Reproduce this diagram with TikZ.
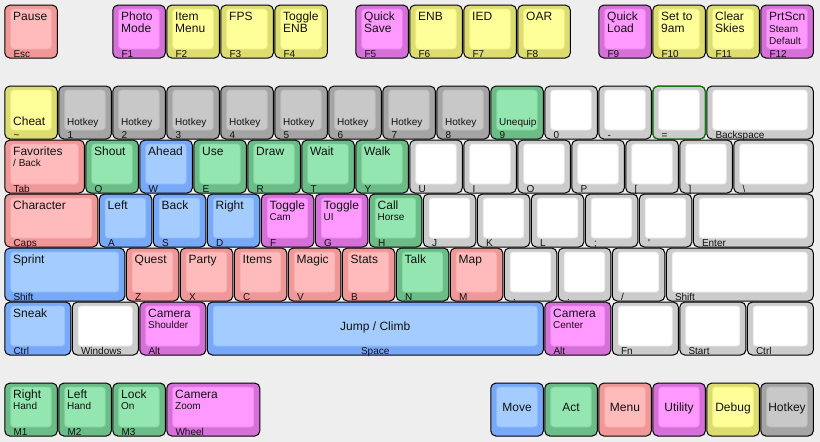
\documentclass[tikz,border=0pt]{standalone}
\usepackage{fontspec}
\setmainfont{Liberation Sans}
\definecolor{bg}{HTML}{EEEEEE}
\definecolor{txt}{HTML}{111111}
\definecolor{redS}{HTML}{F09898}\definecolor{redT}{HTML}{FFBBBB}
\definecolor{grnS}{HTML}{6CBC88}\definecolor{grnT}{HTML}{94E6B0}
\definecolor{bluS}{HTML}{78A8F8}\definecolor{bluT}{HTML}{A4CCFE}
\definecolor{magS}{HTML}{D470D8}\definecolor{magT}{HTML}{FF99FF}
\definecolor{yelS}{HTML}{DCDC70}\definecolor{yelT}{HTML}{FFFF99}
\definecolor{gryS}{HTML}{A4A4A4}\definecolor{gryT}{HTML}{C8C8C8}
\definecolor{whtS}{HTML}{CCCCCC}\definecolor{whtT}{HTML}{FFFFFF}
\newcommand\kbkey[5]{%
  \pgfmathsetmacro\kXa{4+54*#2}%
  \pgfmathsetmacro\kYa{4.3+54*#3}%
  \pgfmathsetmacro\kXb{\kXa+54*#4}%
  \pgfmathsetmacro\kXc{(\kXa+\kXb)/2}%
  \path[keyside=#5] (\kXa+0.8,\kYa+0.8) rectangle (\kXb-0.7,\kYa+53.7);
  \path[keytop=#5] (\kXa+6.7,\kYa+4.7) rectangle (\kXb-6.7,\kYa+44.7);
  \coordinate (#1) at (\kXa,\kYa);}
\newcommand\tA[2]{\node[big] (#1) at (\kXa+9,\kYa+15.7) {#2};}
\newcommand\tB[2]{\node[big] (#1) at (\kXa+9,\kYa+28.2) {#2};}
\newcommand\tS[3][27]{\node[sm] (#2) at (\kXa+9,\kYa+#1) {#3};}
\newcommand\tL[3]{\node[#2] (#1) at (\kXa+9,\kYa+40) {#3};}
\newcommand\tF[2]{\node[sm] (#1) at (\kXa+9.3,\kYa+52.8) {#2};}
\newcommand\tC[2]{\node[big,anchor=base] (#1) at (\kXc,\kYa+29) {#2};}
\begin{document}
\begin{tikzpicture}[x=1pt,y=-1pt,
  every node/.style={inner sep=0pt,text=txt},
  big/.style={font=\fontsize{12}{14}\selectfont,anchor=base west},
  sm/.style={font=\fontsize{10}{12}\selectfont,anchor=base west},
  keyside/.style={fill=#1S,draw=black,line width=1pt,rounded corners=5pt},
  keytop/.style={fill=#1T,draw=#1S!45!#1T,line width=0.8pt,rounded corners=3pt}]
\fill[bg] (0,0) rectangle (820,442);
\useasboundingbox (0,0) rectangle (820,442);
% ---- row 0
\kbkey{esc}{0}{0}{1}{red}\tA{esc-t}{Pause}\tF{esc-f}{Esc}
\kbkey{f1}{2}{0}{1}{mag}\tA{f1-t}{Photo}\tB{f1-b}{Mode}\tF{f1-f}{F1}
\kbkey{f2}{3}{0}{1}{yel}\tA{f2-t}{Item}\tB{f2-b}{Menu}\tF{f2-f}{F2}
\kbkey{f3}{4}{0}{1}{yel}\tA{f3-t}{FPS}\tF{f3-f}{F3}
\kbkey{f4}{5}{0}{1}{yel}\tA{f4-t}{Toggle}\tB{f4-b}{ENB}\tF{f4-f}{F4}
\kbkey{f5}{6.5}{0}{1}{mag}\tA{f5-t}{Quick}\tB{f5-b}{Save}\tF{f5-f}{F5}
\kbkey{f6}{7.5}{0}{1}{yel}\tA{f6-t}{ENB}\tF{f6-f}{F6}
\kbkey{f7}{8.5}{0}{1}{yel}\tA{f7-t}{IED}\tF{f7-f}{F7}
\kbkey{f8}{9.5}{0}{1}{yel}\tA{f8-t}{OAR}\tF{f8-f}{F8}
\kbkey{f9}{11}{0}{1}{mag}\tA{f9-t}{Quick}\tB{f9-b}{Load}\tF{f9-f}{F9}
\kbkey{f10}{12}{0}{1}{yel}\tA{f10-t}{Set to}\tB{f10-b}{9am}\tF{f10-f}{F10}
\kbkey{f11}{13}{0}{1}{yel}\tA{f11-t}{Clear}\tB{f11-b}{Skies}\tF{f11-f}{F11}
\kbkey{f12}{14}{0}{1}{mag}\tA{f12-t}{PrtScn}\tS[28]{f12-s}{Steam}\tS[40.6]{f12-d}{Default}\tF{f12-f}{F12}
% ---- row 1
\kbkey{tld}{0}{1.5}{1}{yel}\tL{tld-l}{big}{Cheat}\tF{tld-f}{\textasciitilde}
\kbkey{n1}{1}{1.5}{1}{gry}\tL{n1-l}{sm}{Hotkey}\tF{n1-f}{1}
\kbkey{n2}{2}{1.5}{1}{gry}\tL{n2-l}{sm}{Hotkey}\tF{n2-f}{2}
\kbkey{n3}{3}{1.5}{1}{gry}\tL{n3-l}{sm}{Hotkey}\tF{n3-f}{3}
\kbkey{n4}{4}{1.5}{1}{gry}\tL{n4-l}{sm}{Hotkey}\tF{n4-f}{4}
\kbkey{n5}{5}{1.5}{1}{gry}\tL{n5-l}{sm}{Hotkey}\tF{n5-f}{5}
\kbkey{n6}{6}{1.5}{1}{gry}\tL{n6-l}{sm}{Hotkey}\tF{n6-f}{6}
\kbkey{n7}{7}{1.5}{1}{gry}\tL{n7-l}{sm}{Hotkey}\tF{n7-f}{7}
\kbkey{n8}{8}{1.5}{1}{gry}\tL{n8-l}{sm}{Hotkey}\tF{n8-f}{8}
\kbkey{n9}{9}{1.5}{1}{grn}\tL{n9-l}{sm}{Unequip}\tF{n9-f}{9}
\kbkey{n0}{10}{1.5}{1}{wht}\tF{n0-f}{0}
\kbkey{mns}{11}{1.5}{1}{wht}\tF{mns-f}{-}
\kbkey{eql}{12}{1.5}{1}{wht}\tF{eql-f}{=}
\draw[green!55!black,line width=0.9pt,rounded corners=5pt] (\kXa+0.8,\kYa+0.8) rectangle (\kXa+53.3,\kYa+53.7);
\kbkey{bsp}{13}{1.5}{2}{wht}\tF{bsp-f}{Backspace}
% ---- row 2
\kbkey{tab}{0}{2.5}{1.5}{red}\tA{tab-t}{Favorites}\tS{tab-s}{/ Back}\tF{tab-f}{Tab}
\kbkey{q}{1.5}{2.5}{1}{grn}\tA{q-t}{Shout}\tF{q-f}{Q}
\kbkey{w}{2.5}{2.5}{1}{blu}\tA{w-t}{Ahead}\tF{w-f}{W}
\kbkey{e}{3.5}{2.5}{1}{grn}\tA{e-t}{Use}\tF{e-f}{E}
\kbkey{r}{4.5}{2.5}{1}{grn}\tA{r-t}{Draw}\tF{r-f}{R}
\kbkey{t}{5.5}{2.5}{1}{grn}\tA{t-t}{Wait}\tF{t-f}{T}
\kbkey{y}{6.5}{2.5}{1}{grn}\tA{y-t}{Walk}\tF{y-f}{Y}
\kbkey{u}{7.5}{2.5}{1}{wht}\tF{u-f}{U}
\kbkey{i}{8.5}{2.5}{1}{wht}\tF{i-f}{I}
\kbkey{o}{9.5}{2.5}{1}{wht}\tF{o-f}{O}
\kbkey{p}{10.5}{2.5}{1}{wht}\tF{p-f}{P}
\kbkey{lbr}{11.5}{2.5}{1}{wht}\tF{lbr-f}{[}
\kbkey{rbr}{12.5}{2.5}{1}{wht}\tF{rbr-f}{]}
\kbkey{bsl}{13.5}{2.5}{1.5}{wht}\tF{bsl-f}{\textbackslash}
% ---- row 3
\kbkey{caps}{0}{3.5}{1.75}{red}\tA{caps-t}{Character}\tF{caps-f}{Caps}
\kbkey{a}{1.75}{3.5}{1}{blu}\tA{a-t}{Left}\tF{a-f}{A}
\kbkey{s}{2.75}{3.5}{1}{blu}\tA{s-t}{Back}\tF{s-f}{S}
\kbkey{d}{3.75}{3.5}{1}{blu}\tA{d-t}{Right}\tF{d-f}{D}
\kbkey{f}{4.75}{3.5}{1}{mag}\tA{f-t}{Toggle}\tS{f-s}{Cam}\tF{f-f}{F}
\kbkey{g}{5.75}{3.5}{1}{mag}\tA{g-t}{Toggle}\tS{g-s}{UI}\tF{g-f}{G}
\kbkey{h}{6.75}{3.5}{1}{grn}\tA{h-t}{Call}\tS{h-s}{Horse}\tF{h-f}{H}
\kbkey{j}{7.75}{3.5}{1}{wht}\tF{j-f}{J}
\kbkey{k}{8.75}{3.5}{1}{wht}\tF{k-f}{K}
\kbkey{l}{9.75}{3.5}{1}{wht}\tF{l-f}{L}
\kbkey{scl}{10.75}{3.5}{1}{wht}\tF{scl-f}{;}
\kbkey{apo}{11.75}{3.5}{1}{wht}\tF{apo-f}{\textquotesingle}
\kbkey{ent}{12.75}{3.5}{2.25}{wht}\tF{ent-f}{Enter}
% ---- row 4
\kbkey{lsh}{0}{4.5}{2.25}{blu}\tA{lsh-t}{Sprint}\tF{lsh-f}{Shift}
\kbkey{z}{2.25}{4.5}{1}{red}\tA{z-t}{Quest}\tF{z-f}{Z}
\kbkey{x}{3.25}{4.5}{1}{red}\tA{x-t}{Party}\tF{x-f}{X}
\kbkey{c}{4.25}{4.5}{1}{red}\tA{c-t}{Items}\tF{c-f}{C}
\kbkey{v}{5.25}{4.5}{1}{red}\tA{v-t}{Magic}\tF{v-f}{V}
\kbkey{b}{6.25}{4.5}{1}{red}\tA{b-t}{Stats}\tF{b-f}{B}
\kbkey{n}{7.25}{4.5}{1}{grn}\tA{n-t}{Talk}\tF{n-f}{N}
\kbkey{m}{8.25}{4.5}{1}{red}\tA{m-t}{Map}\tF{m-f}{M}
\kbkey{cma}{9.25}{4.5}{1}{wht}\tF{cma-f}{,}
\kbkey{dot}{10.25}{4.5}{1}{wht}\tF{dot-f}{.}
\kbkey{sls}{11.25}{4.5}{1}{wht}\tF{sls-f}{/}
\kbkey{rsh}{12.25}{4.5}{2.75}{wht}\tF{rsh-f}{Shift}
% ---- row 5
\kbkey{lct}{0}{5.5}{1.25}{blu}\tA{lct-t}{Sneak}\tF{lct-f}{Ctrl}
\kbkey{win}{1.25}{5.5}{1.25}{wht}\tF{win-f}{Windows}
\kbkey{lalt}{2.5}{5.5}{1.25}{mag}\tA{lalt-t}{Camera}\tS{lalt-s}{Shoulder}\tF{lalt-f}{Alt}
\kbkey{spc}{3.75}{5.5}{6.25}{blu}\tC{spc-t}{Jump / Climb}
\node[sm,anchor=base] (spc-f) at (\kXc,\kYa+52.8) {Space};
\kbkey{ralt}{10}{5.5}{1.25}{mag}\tA{ralt-t}{Camera}\tS{ralt-s}{Center}\tF{ralt-f}{Alt}
\kbkey{fn}{11.25}{5.5}{1.25}{wht}\tF{fn-f}{Fn}
\kbkey{start}{12.5}{5.5}{1.25}{wht}\tF{start-f}{Start}
\kbkey{rct}{13.75}{5.5}{1.25}{wht}\tF{rct-f}{Ctrl}
% ---- mouse row
\kbkey{m1}{0}{7}{1}{grn}\tA{m1-t}{Right}\tS{m1-s}{Hand}\tF{m1-f}{M1}
\kbkey{m2}{1}{7}{1}{grn}\tA{m2-t}{Left}\tS{m2-s}{Hand}\tF{m2-f}{M2}
\kbkey{m3}{2}{7}{1}{grn}\tA{m3-t}{Lock}\tS{m3-s}{On}\tF{m3-f}{M3}
\kbkey{whl}{3}{7}{1.75}{mag}\tA{whl-t}{Camera}\tS{whl-s}{Zoom}\tF{whl-f}{Wheel}
% ---- legend
\kbkey{lg1}{9}{7}{1}{blu}\tC{lg1-t}{Move}
\kbkey{lg2}{10}{7}{1}{grn}\tC{lg2-t}{Act}
\kbkey{lg3}{11}{7}{1}{red}\tC{lg3-t}{Menu}
\kbkey{lg4}{12}{7}{1}{mag}\tC{lg4-t}{Utility}
\kbkey{lg5}{13}{7}{1}{yel}\tC{lg5-t}{Debug}
\kbkey{lg6}{14}{7}{1}{gry}\tC{lg6-t}{Hotkey}
\end{tikzpicture}
\end{document}
